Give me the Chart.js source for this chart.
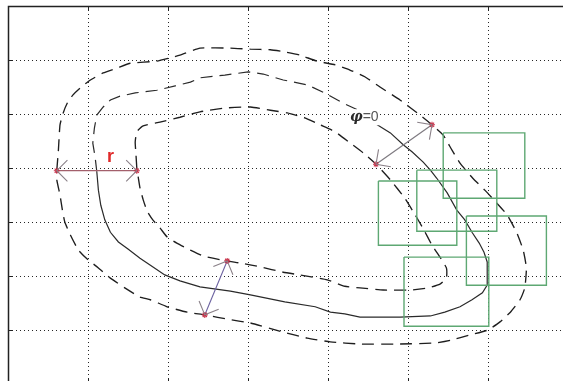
<!DOCTYPE html>
<html>
<head>
<meta charset="utf-8">
<script src="https://cdn.jsdelivr.net/npm/chart.js@4.4.1/dist/chart.umd.min.js"></script>
<style>
html, body { margin: 0; padding: 0; overflow: hidden; background: #fff; }
canvas { display: block; }
</style>
</head>
<body>
<canvas id="c" width="600" height="400"></canvas>
<script>
// Axis ranges and grid steps (no tick labels are shown)
const xTicks = [0, 1, 2, 3, 4, 5, 6, 7];
const yTicks = [0, 1, 2, 3, 4, 5, 6, 7];

// Outer contour (dashed), clockwise from its left-most point
const outerContour = [
  [0.61,3.96],[0.63,4.33],[0.65,4.80],[0.69,5.02],[0.74,5.20],[0.81,5.35],[0.90,5.48],
  [1.03,5.63],[1.19,5.76],[1.36,5.85],[1.53,5.94],[1.86,5.98],[2.15,6.09],[2.40,6.22],
  [2.78,6.22],[3.03,6.20],[3.28,6.19],[3.46,6.15],[3.65,6.09],[3.86,5.98],[4.09,5.91],
  [4.28,5.81],[4.46,5.69],[4.65,5.50],[4.90,5.26],[5.15,4.98],[5.30,4.80],[5.44,4.61],
  [5.55,4.33],[5.65,4.09],[5.81,3.81],[5.96,3.59],[6.11,3.35],[6.24,3.13],[6.36,2.80],
  [6.44,2.48],[6.48,2.15],[6.46,1.78],[6.40,1.56],[6.28,1.33],[6.15,1.15],[6.00,1.00],
  [5.78,0.91],[5.53,0.81],[5.34,0.76],[4.90,0.74],[4.40,0.74],[4.03,0.78],[3.74,0.85],
  [3.44,0.96],[3.03,1.13],[2.78,1.19],[2.46,1.28],[2.24,1.33],[1.99,1.43],[1.78,1.56],
  [1.65,1.61],[1.46,1.78],[1.28,1.96],[1.13,2.15],[1.00,2.30],[0.88,2.48],[0.78,2.76],
  [0.71,3.00],[0.68,3.22],[0.65,3.50],[0.61,3.78]
];

// Middle contour: dashed along the upper-left part, solid for the rest
const middleContour = [
  [1.11,3.93],[1.09,4.19],[1.06,4.46],[1.08,4.74],[1.11,4.98],[1.19,5.13],[1.28,5.26],
  [1.40,5.33],[1.59,5.39],[1.86,5.44],[2.09,5.52],[2.28,5.59],[2.40,5.67],[2.71,5.72],
  [3.00,5.78],[3.19,5.74],[3.44,5.63],[3.74,5.54],[3.96,5.39],[4.19,5.20],[4.38,5.07],
  [4.56,4.85],[4.78,4.65],[4.94,4.43],[5.05,4.30],[5.19,4.11],[5.28,3.96],[5.36,3.81],
  [5.49,3.54],[5.61,3.22],[5.71,3.04],[5.80,2.81],[5.89,2.61],[5.95,2.44],[5.99,2.26],
  [5.99,1.83],[5.93,1.69],[5.80,1.56],[5.65,1.43],[5.46,1.33],[5.28,1.26],[4.90,1.24],
  [4.40,1.24],[4.21,1.30],[4.03,1.33],[3.84,1.43],[3.46,1.52],[3.03,1.65],[2.78,1.72],
  [2.40,1.80],[2.15,1.91],[1.96,2.02],[1.78,2.20],[1.65,2.33],[1.50,2.50],[1.38,2.63],
  [1.28,2.81],[1.21,3.04],[1.16,3.31],[1.13,3.59]
];
const middleDashedSegments = 21;

// Inner contour (dashed), clockwise from its left-most point
const innerContour = [
  [1.61,4.00],[1.60,4.24],[1.59,4.48],[1.61,4.67],[1.69,4.78],[1.90,4.85],[2.15,4.94],
  [2.40,5.04],[2.71,5.11],[3.03,5.13],[3.28,5.07],[3.49,5.02],[3.71,4.93],[3.90,4.80],
  [4.09,4.67],[4.28,4.46],[4.44,4.28],[4.60,4.07],[4.78,3.78],[4.96,3.44],[5.09,3.13],
  [5.20,2.85],[5.30,2.57],[5.40,2.35],[5.48,2.15],[5.48,1.96],[5.40,1.85],[5.25,1.78],
  [5.03,1.74],[4.69,1.74],[4.40,1.78],[4.21,1.81],[3.99,1.93],[3.65,2.02],[3.44,2.07],
  [3.15,2.17],[2.90,2.24],[2.73,2.28],[2.44,2.37],[2.28,2.48],[2.11,2.61],[1.99,2.72],
  [1.90,2.89],[1.81,3.04],[1.74,3.20],[1.69,3.41],[1.65,3.63],[1.63,3.81]
];

// Windows: [left, top, right, bottom]
const windows = [
  [5.44,4.65,6.46,3.44],
  [5.11,3.96,6.11,2.83],
  [4.63,3.76,5.61,2.57],
  [5.73,3.11,6.73,1.83],
  [4.95,2.35,6.01,1.07]
];

// Double-headed arrows: [start, end]
const arrowR     = [[0.61,3.95],[1.61,3.95]];
const arrowPhi   = [[4.60,4.07],[5.30,4.80]];
const arrowLower = [[2.46,1.28],[2.74,2.28]];

const pts = arr => arr.map(([x, y]) => ({ x, y }));
const closed = arr => pts(arr.concat([arr[0]]));

const dashPattern = [12, 7];
const curveColor = '#1e1e1e';

function arrowSet(arr, color) {
  return {
    data: pts(arr), showLine: true, borderColor: color, borderWidth: 1.2,
    pointRadius: 3, pointStyle: 'star', pointBorderColor: '#c8324a',
    pointBorderWidth: 1.1, pointBackgroundColor: '#c8324a', tension: 0, arrow: true
  };
}

const datasets = [
  arrowSet(arrowR, '#a3606c'),
  arrowSet(arrowPhi, '#7e7a80'),
  arrowSet(arrowLower, '#6c62a0'),
  ...windows.map(([l, t, r, b]) => ({
    data: pts([[l, t], [r, t], [r, b], [l, b], [l, t]]),
    showLine: true, borderColor: '#5ea873', borderWidth: 1.4, pointRadius: 0, tension: 0
  })),
  {
    data: closed(middleContour), showLine: true, borderColor: '#2a2a2a', borderWidth: 1.2,
    pointRadius: 0, tension: 0,
    segment: { borderDash: ctx => ctx.p0DataIndex < middleDashedSegments ? dashPattern : undefined }
  },
  {
    data: closed(outerContour), showLine: true, borderColor: curveColor, borderWidth: 1.35,
    borderDash: dashPattern, pointRadius: 0, tension: 0.15
  },
  {
    data: closed(innerContour), showLine: true, borderColor: curveColor, borderWidth: 1.35,
    borderDash: dashPattern, pointRadius: 0, tension: 0.15
  }
];

// Box frame with inward tick marks
const framePlugin = {
  id: 'frame',
  afterDatasetsDraw(chart) {
    const { ctx, chartArea: a, scales: { x, y } } = chart;
    ctx.save();
    ctx.strokeStyle = '#222';
    ctx.lineWidth = 1.5;
    ctx.strokeRect(a.left + 0.5, a.top + 0.5, a.right - a.left, a.bottom - a.top);
    ctx.lineWidth = 1;
    ctx.beginPath();
    yTicks.forEach(v => {
      const py = Math.round(y.getPixelForValue(v)) + 0.5;
      ctx.moveTo(a.left, py); ctx.lineTo(a.left + 5, py);
      ctx.moveTo(a.right, py); ctx.lineTo(a.right - 5, py);
    });
    xTicks.forEach(v => {
      const px = Math.round(x.getPixelForValue(v)) + 0.5;
      ctx.moveTo(px, a.top); ctx.lineTo(px, a.top + 5);
      ctx.moveTo(px, a.bottom); ctx.lineTo(px, a.bottom - 5);
    });
    ctx.stroke();
    ctx.restore();
  }
};

// Open arrowheads at both ends of each arrow dataset
const arrowPlugin = {
  id: 'arrowHeads',
  afterDatasetsDraw(chart) {
    const { ctx } = chart;
    const len = 15, ang = Math.PI * 0.25;
    ctx.save();
    ctx.strokeStyle = '#8a8088';
    ctx.lineWidth = 1.1;
    chart.data.datasets.forEach((ds, i) => {
      if (!ds.arrow) return;
      const el = chart.getDatasetMeta(i).data;
      const ends = [[el[0], el[1]], [el[1], el[0]]];
      ends.forEach(([tip, from]) => {
        const a = Math.atan2(from.y - tip.y, from.x - tip.x);
        ctx.beginPath();
        ctx.moveTo(tip.x + len * Math.cos(a + ang), tip.y + len * Math.sin(a + ang));
        ctx.lineTo(tip.x, tip.y);
        ctx.lineTo(tip.x + len * Math.cos(a - ang), tip.y + len * Math.sin(a - ang));
        ctx.stroke();
      });
    });
    ctx.restore();
  }
};

// Text labels placed in data coordinates
const labelPlugin = {
  id: 'labels',
  afterDatasetsDraw(chart, args, opts) {
    const { ctx, scales: { x, y } } = chart;
    ctx.save();
    ctx.textBaseline = 'middle';
    // radius label
    ctx.font = 'bold 18px "Liberation Sans", Arial, sans-serif';
    ctx.fillStyle = '#e02a2a';
    ctx.textAlign = 'center';
    ctx.fillText('r', x.getPixelForValue(opts.r[0]), y.getPixelForValue(opts.r[1]));
    // angle label on a white backing
    ctx.textAlign = 'left';
    let px = x.getPixelForValue(opts.phi[0]);
    const py = y.getPixelForValue(opts.phi[1]);
    const phiFont = 'bold italic 14px "DejaVu Serif", serif';
    const eqFont = '14px "Liberation Sans", Arial, sans-serif';
    ctx.font = phiFont;
    const w1 = ctx.measureText('φ').width;
    ctx.font = eqFont;
    const w2 = ctx.measureText('=0').width;
    ctx.fillStyle = '#fff';
    ctx.fillRect(px - 1, py - 8, w1 + w2 + 2, 16);
    ctx.font = phiFont;
    ctx.fillStyle = '#2a2a2a';
    ctx.fillText('φ', px, py);
    px += w1;
    ctx.font = eqFont;
    ctx.fillStyle = '#555';
    ctx.fillText('=0', px, py);
    ctx.restore();
  }
};

new Chart(document.getElementById('c'), {
  type: 'scatter',
  data: { datasets },
  options: {
    responsive: false,
    animation: false,
    devicePixelRatio: 1,
    layout: { padding: { left: 8, top: 6, right: 32, bottom: 16 } },
    plugins: {
      legend: { display: false },
      tooltip: { enabled: false },
      labels: { r: [1.28, 4.2], phi: [4.275, 4.94] }
    },
    scales: {
      x: {
        type: 'linear', min: xTicks[0], max: xTicks[xTicks.length - 1],
        afterFit: s => { s.height = 0; },
        afterBuildTicks: s => { s.ticks = xTicks.map(v => ({ value: v })); },
        ticks: { display: false },
        grid: { color: 'rgba(0,0,0,0.85)', lineWidth: 1, drawTicks: false },
        border: { display: false, dash: [1, 3] }
      },
      y: {
        type: 'linear', min: yTicks[0], max: yTicks[yTicks.length - 1],
        afterFit: s => { s.width = 0; },
        afterBuildTicks: s => { s.ticks = yTicks.map(v => ({ value: v })); },
        ticks: { display: false },
        grid: { color: 'rgba(0,0,0,0.85)', lineWidth: 1, drawTicks: false },
        border: { display: false, dash: [1, 3] }
      }
    }
  },
  plugins: [framePlugin, arrowPlugin, labelPlugin]
});
</script>
</body>
</html>
